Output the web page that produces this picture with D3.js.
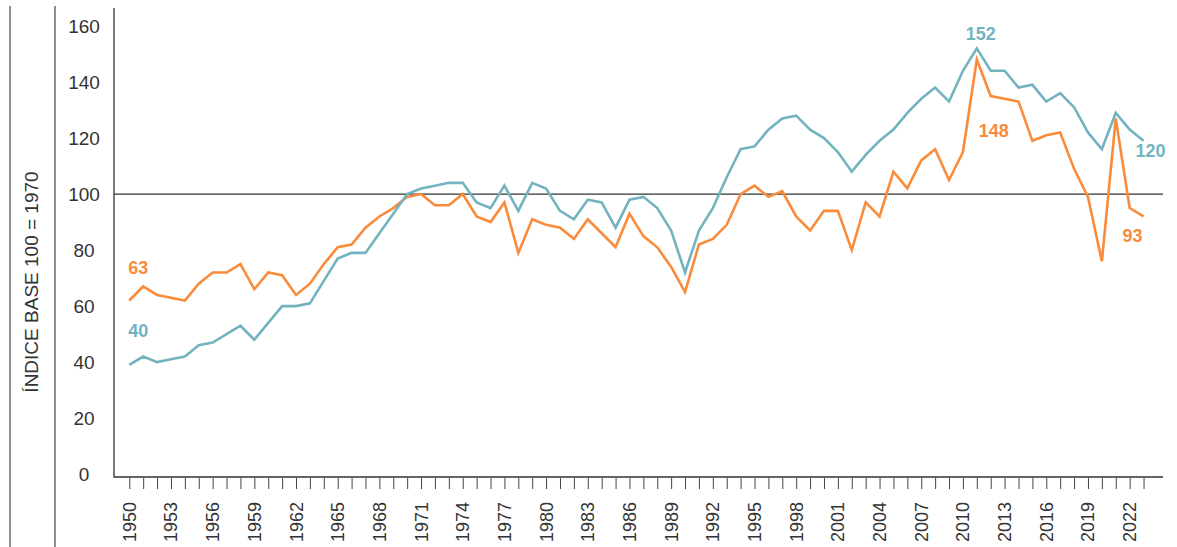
<!DOCTYPE html>
<html>
<head>
<meta charset="utf-8">
<script src="https://cdn.jsdelivr.net/npm/d3@7"></script>
<style>
  html, body { margin: 0; padding: 0; background: #fff; }
  svg { display: block; font-family: "Liberation Sans", Arial, Helvetica, sans-serif; }
</style>
</head>
<body>
<svg id="chart" width="1177" height="547"></svg>
<script>
const years = d3.range(1950, 2024);
const orangeValues = [62,67,64,63,62,68,72,72,75,66,72,71,64,68,75,81,82,88,92,95,99,100,96,96,100,92,90,97,79,91,89,88,84,91,86,81,93,85,81,74,65,82,84,89,100,103,99,101,92,87,94,94,80,97,92,108,102,112,116,105,115,148,135,134,133,119,121,122,109,99,76,127,95,92];
const tealValues = [39,42,40,41,42,46,47,50,53,48,54,60,60,61,69,77,79,79,86,93,100,102,103,104,104,97,95,103,94,104,102,94,91,98,97,88,98,99,95,87,72,87,95,106,116,117,123,127,128,123,120,115,108,114,119,123,129,134,138,133,144,152,144,144,138,139,133,136,131,122,116,129,123,119];
const yTicks = [0,20,40,60,80,100,120,140,160];
const xLabelYears = d3.range(1950, 2023, 3);
const yTitle = "ÍNDICE BASE 100 = 1970";
const annotations = [
  {text: "63", year: 1950, value: 62, series: "orange", dx: -1, dy: -27, anchor: "start"},
  {text: "40", year: 1950, value: 39, series: "teal", dx: -1, dy: -28, anchor: "start"},
  {text: "152", year: 2011, value: 152, series: "teal", dx: 4, dy: -8, anchor: "middle"},
  {text: "148", year: 2011, value: 148, series: "orange", dx: 2, dy: 77, anchor: "start"},
  {text: "120", year: 2023, value: 119, series: "teal", dx: -8, dy: 16, anchor: "start"},
  {text: "93", year: 2023, value: 92, series: "orange", dx: -21, dy: 26, anchor: "start"}
];
const colors = {orange: "#f98b3b", teal: "#73b3c0"};

const svg = d3.select("#chart");
const x = d3.scaleLinear().domain([1948.9, 2024.4]).range([114, 1163]);
const y = d3.scaleLinear().domain([-1, 165.7]).range([477, 10]);

// left separator lines
[10, 55].forEach(xx => {
  svg.append("line").attr("x1", xx).attr("x2", xx).attr("y1", 6).attr("y2", 547)
    .attr("stroke", "#555").attr("stroke-width", 1.3);
});

// y title
svg.append("text")
  .attr("transform", "translate(38,282) rotate(-90)")
  .attr("text-anchor", "middle")
  .attr("font-size", 19).attr("fill", "#333")
  .text(yTitle);

// y axis
const yAxis = d3.axisLeft(y).tickValues(yTicks).tickSize(0).tickPadding(0).tickFormat(d3.format("d"));
const gy = svg.append("g").attr("transform", "translate(114,0)").call(yAxis);
gy.select(".domain").remove();
gy.selectAll("text").attr("x", -30).attr("text-anchor", "middle")
  .attr("font-size", 19).attr("fill", "#333").attr("font-family", "Liberation Sans, Arial, sans-serif");

// plot frame (left and bottom)
svg.append("path")
  .attr("d", `M${x.range()[0]},${8} V${y(-1)} H${x.range()[1]}`)
  .attr("fill", "none").attr("stroke", "#333").attr("stroke-width", 1.3);

// x axis ticks
const xAxis = d3.axisBottom(x).tickValues(years).tickSize(11).tickPadding(0).tickFormat("");
const gx = svg.append("g").attr("transform", `translate(0,${y(-1) + 1})`).call(xAxis);
gx.select(".domain").remove();
gx.selectAll("line").attr("stroke", "#444").attr("stroke-width", 1);

// x labels
svg.append("g").selectAll("text").data(xLabelYears).join("text")
  .attr("transform", d => `translate(${x(d) + 6.5},502) rotate(-90)`)
  .attr("text-anchor", "end")
  .attr("font-size", 18).attr("fill", "#333")
  .text(d => d);

// reference line 100
svg.append("line")
  .attr("x1", x.range()[0]).attr("x2", x.range()[1])
  .attr("y1", y(100)).attr("y2", y(100))
  .attr("stroke", "#333").attr("stroke-width", 1.3);

// lines
const line = d3.line().x((d, i) => x(years[i])).y(d => y(d));
svg.append("path").datum(orangeValues).attr("d", line)
  .attr("fill", "none").attr("stroke", colors.orange).attr("stroke-width", 2.6).attr("stroke-linejoin", "miter");
svg.append("path").datum(tealValues).attr("d", line)
  .attr("fill", "none").attr("stroke", colors.teal).attr("stroke-width", 2.6).attr("stroke-linejoin", "miter");

// annotations
svg.append("g").selectAll("text").data(annotations).join("text")
  .attr("x", d => x(d.year) + d.dx)
  .attr("y", d => y(d.value) + d.dy)
  .attr("text-anchor", d => d.anchor)
  .attr("font-size", 18).attr("font-weight", "bold")
  .attr("fill", d => colors[d.series])
  .text(d => d.text);
</script>
</body>
</html>
